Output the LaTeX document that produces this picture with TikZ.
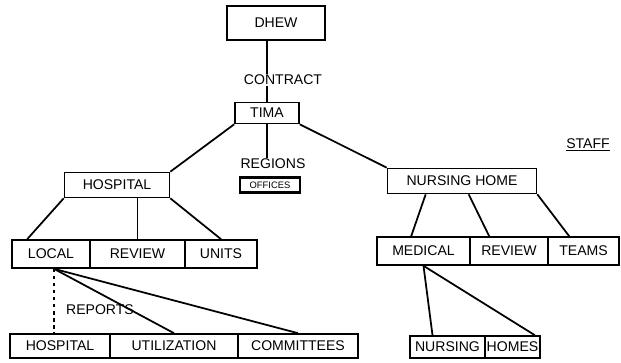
\documentclass[tikz,border=0pt]{standalone}
\usepackage{fontspec}
\setmainfont{Liberation Sans}
\usepackage{tikz}
\usetikzlibrary{calc}
\usetikzlibrary{positioning}
\tikzset{
  myline/.style={
    draw=black,
    line width=1.5pt,
  },
  mybox/.style={
    draw=black,
    shape=rectangle,
    line width=1.4pt,
    align=center,
    inner sep=0pt,
    font=\fontsize{12}{14}\selectfont
  },
  mylabel/.style={
    inner sep=1pt,
    font=\fontsize{12}{14}\selectfont
  },
}

\begin{document}
\begin{tikzpicture}[x=0.03cm, y=-0.03cm]
    \useasboundingbox (0, 0) rectangle (621, 362);

    \node [mybox, minimum width=2.94cm, minimum height=1.02cm] (DHEW) at (276, 23) {DHEW};
    \node [mylabel] (contract) at (283, 80) {CONTRACT};
    \node [mybox, minimum width=1.92cm, minimum height=0.63cm] (TIMA) at (267, 113) {TIMA};
    \draw [myline] (TIMA.north |- DHEW.south) -- (TIMA.north |- contract.north);
    \draw [myline] (TIMA.north |- contract.south) -- (TIMA.north);

    \node [mylabel] (regions) at (273, 164) {REGIONS};
    \node [mybox, line width=1.8pt, minimum width=1.8cm, minimum height=0.45cm,
      font=\fontsize{8}{9}\selectfont] (offices) at (270, 185) {OFFICES};
    \draw [myline] (TIMA.south) -- (TIMA.south |- regions.north);

    \node [mybox, minimum width=3.15cm, minimum height=0.75cm] (hosp) at (117, 185) {HOSPITAL};
    \node [mybox, minimum width=4.47cm, minimum height=0.75cm] (nhome) at (462, 181) {NURSING HOME};
    \draw [myline] (TIMA.south west) -- (hosp.north east);
    \draw [myline] (TIMA.south east) -- (nhome.north west);

    \node [mylabel] (staff) at (588, 145) {\underline{STAFF}};

    % hospital side
    \node [mybox, minimum width=2.34cm, minimum height=0.84cm] (local) at (51, 254) {LOCAL};
    \node [mybox, minimum width=2.85cm, minimum height=0.84cm] (hreview) at (137.5, 254) {REVIEW};
    \node [mybox, minimum width=2.16cm, minimum height=0.84cm] (units) at (221, 254) {UNITS};
    \draw [myline] (hosp.south west) -- ($(local.north west)+(16, 0)$);
    \draw [myline] (hreview.north |- hosp.south) -- (hreview.north);
    \draw [myline] (hosp.south east) -- (units.north);

    \node [mybox, minimum width=3.0cm, minimum height=0.72cm] (hosp2) at (60, 346) {HOSPITAL};
    \node [mybox, minimum width=3.84cm, minimum height=0.72cm] (util) at (174, 346) {UTILIZATION};
    \node [mybox, minimum width=3.6cm, minimum height=0.72cm] (comm) at (298, 346) {COMMITTEES};
    \coordinate (lp) at ($(local.south)+(3, 0)$);
    \node [mylabel] (reports) at (100, 310) {REPORTS};
    \draw [myline, dashed] (lp) -- (lp |- hosp2.north);
    \draw [myline] (lp) -- (util.north);
    \draw [myline] (lp) -- (comm.north);

    % nursing home side
    \node [mybox, minimum width=2.79cm, minimum height=0.84cm] (medical) at (423.5, 251) {MEDICAL};
    \node [mybox, minimum width=2.34cm, minimum height=0.84cm] (nreview) at (509, 251) {REVIEW};
    \node [mybox, minimum width=2.13cm, minimum height=0.84cm] (teams) at (583.5, 251) {TEAMS};
    \draw [myline] ($(nhome.south west)+(39, 0)$) -- ($(medical.north west)+(35, 0)$);
    \draw [myline] ($(nhome.south west)+(82, 0)$) -- ($(nreview.north west)+(20, 0)$);
    \draw [myline] (nhome.south east) -- ($(teams.north west)+(22, 0)$);

    \node [mybox, minimum width=2.25cm, minimum height=0.66cm] (nurs) at (447.5, 347) {NURSING};
    \node [mybox, minimum width=1.65cm, minimum height=0.66cm] (homes) at (512.5, 347) {HOMES};
    \draw [myline] (medical.south) -- ($(nurs.north)+(-15, 0)$);
    \draw [myline] (medical.south) -- ($(homes.north east)+(-6, 0)$);

  \end{tikzpicture}
\end{document}
